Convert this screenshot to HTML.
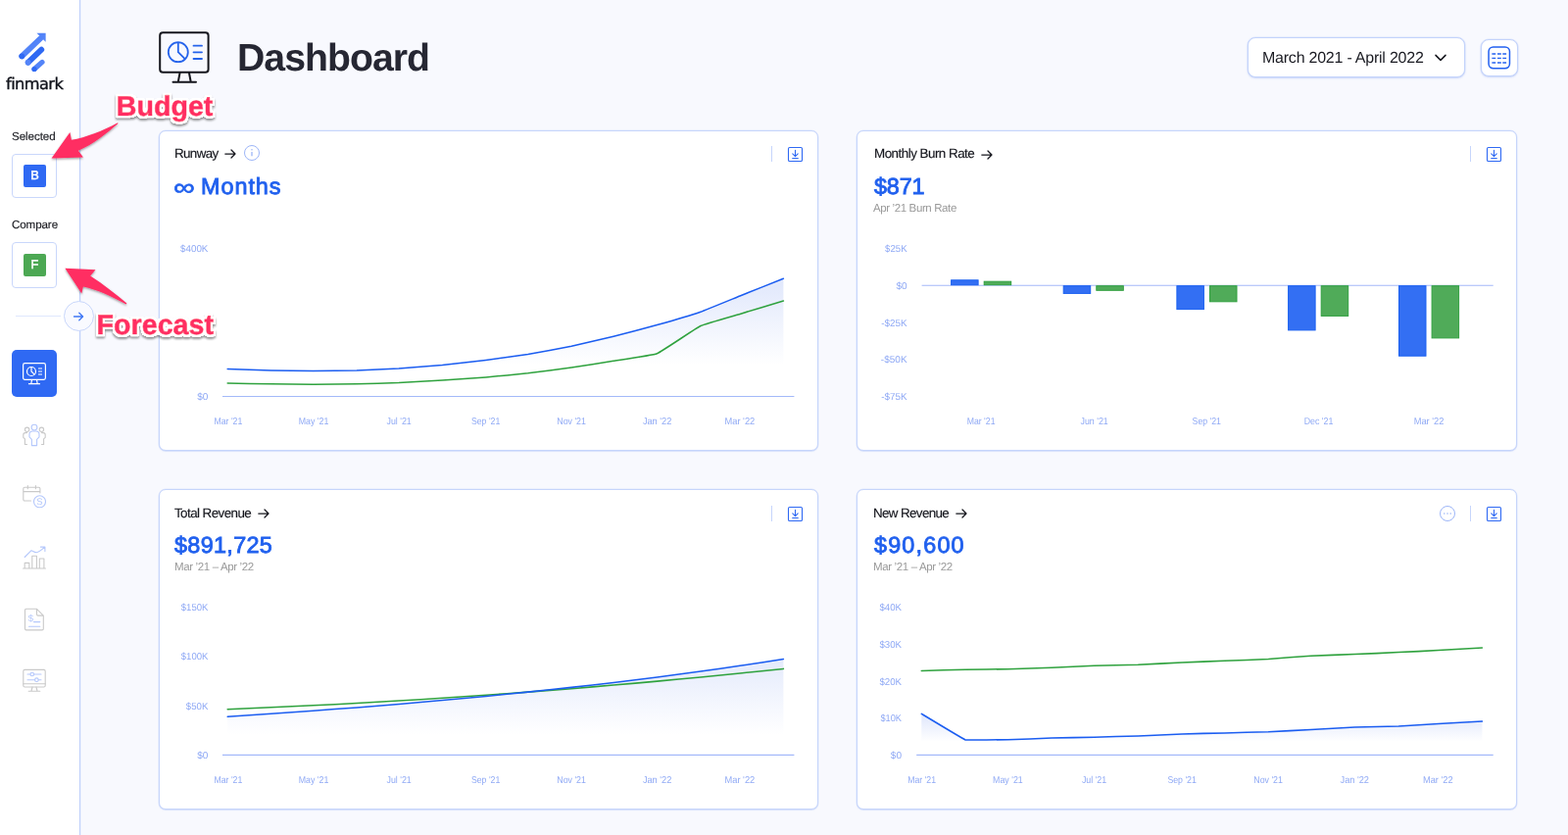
<!DOCTYPE html>
<html lang="en">
<head>
<meta charset="utf-8">
<title>Dashboard</title>
<style>
*{box-sizing:border-box;margin:0;padding:0}
html,body{width:1600px;height:852px;overflow:hidden}
body{text-rendering:geometricPrecision;background:#f8f9fe;font-family:"Liberation Sans",sans-serif;color:#15161d;position:relative}
.abs{position:absolute}
.t{position:absolute;white-space:nowrap;margin:0;font-weight:400}
.chart text{font-family:"Liberation Sans",sans-serif;fill:#8fa9f5;text-rendering:geometricPrecision}
.sidebar{position:absolute;left:0;top:0;width:82px;height:852px;background:#fff;border-right:1px solid #bfd0fb;box-shadow:.5px 0 0 rgba(170,192,250,.3)}
.sbox{position:absolute;left:12px;width:46px;height:46px;border:1px solid #c9d7fb;border-radius:4px;background:#fff}
.chip{position:absolute;left:11px;top:9.7px;width:23px;height:23.5px;border-radius:2px;color:#fff;font-weight:400;font-size:12.8px;line-height:22px;text-align:center;-webkit-text-stroke:.45px #fff}
.hr{position:absolute;left:16px;top:322px;width:46px;height:1px;background:#dfe7fd}
.toggle{position:absolute;left:65px;top:307px;width:31px;height:31px;border-radius:50%;border:1px solid #c9d7fb;background:#f9faff}
.nav-active{position:absolute;left:12px;top:357px;width:46px;height:48px;border-radius:5px;background:#2f69f3}
.navicon{position:absolute;left:23px;width:24px;height:24px}
.datebtn{position:absolute;left:1273px;top:38px;width:222px;height:41px;border:1px solid #c3d3fb;border-radius:8px;background:#fff;box-shadow:0 0 0 .5px rgba(170,192,250,.3),0 1px 2px rgba(120,150,240,.3)}
.tablebtn{position:absolute;left:1511px;top:40px;width:38px;height:38px;border:1px solid #c3d3fb;border-radius:8px;background:#fff;box-shadow:0 0 0 .5px rgba(170,192,250,.3),0 1px 2px rgba(120,150,240,.3)}
.card{position:absolute;width:673px;height:327px;border:1px solid #c6d5fb;border-radius:7px;background:#fff;box-shadow:0 0 0 .5px rgba(170,192,250,.3),0 1px 1px rgba(150,175,245,.25)}
</style>
</head>
<body>
<!-- SIDEBAR -->
<div class="sidebar">
  <svg class="abs" style="left:14px;top:30px" width="40" height="46" viewBox="14 30 40 46">
    <g stroke-linecap="round" fill="none">
      <line x1="22.3" y1="57.3" x2="41.5" y2="39" stroke="#5384f8" stroke-width="5.8"/>
      <line x1="28.7" y1="63.7" x2="42.3" y2="50.7" stroke="#2f69f3" stroke-width="5.8"/>
      <line x1="35" y1="70.5" x2="43" y2="63.4" stroke="#5384f8" stroke-width="5.2"/>
    </g>
    <polygon points="37.5,33.8 46.6,33.8 46.6,42.8" fill="#5384f8"/>
    <circle cx="22.3" cy="57.3" r="2.9" fill="#2f69f3"/>
    <circle cx="28.7" cy="63.7" r="2.9" fill="#5384f8"/>
    <circle cx="35" cy="70.5" r="2.6" fill="#2f69f3"/>
  </svg>
  <div class="t" style="left:6.1px;top:74.89px;font-size:16.2px;line-height:21px;height:21px;letter-spacing:-0.56px;color:#10121a;font-family:'DejaVu Sans','Liberation Sans',sans-serif;-webkit-text-stroke:0.35px #10121a;transform:rotate(.001deg);">finmark</div><div class="t" style="left:12.1px;top:131.88px;font-size:11.6px;line-height:15px;height:15px;letter-spacing:-0.07px;color:#1b1c22;font-family:'Liberation Sans',sans-serif;-webkit-text-stroke:0.15px #1b1c22;transform:rotate(.001deg);">Selected</div><div class="t" style="left:12.1px;top:222.28px;font-size:11.6px;line-height:15px;height:15px;letter-spacing:-0.1px;color:#1b1c22;font-family:'Liberation Sans',sans-serif;-webkit-text-stroke:0.15px #1b1c22;transform:rotate(.001deg);">Compare</div>
  <div class="sbox" style="top:157px;height:45px"><div class="chip" style="background:#2f69f3">B</div></div>
  <div class="sbox" style="top:247px;height:47px"><div class="chip" style="background:#4ca853;top:11.1px;height:23px;line-height:21.6px">F</div></div>
  <div class="hr"></div>
  <div class="nav-active">
    <svg class="abs" style="left:11px;top:12px" width="24" height="24" viewBox="0 0 24 24" fill="none" stroke="#fff" stroke-width="1.2">
      <rect x="0.6" y="1.6" width="22.8" height="16.8" rx="1.8"/>
      <circle cx="9" cy="10" r="4.5"/>
      <path d="M9 5.5V10l3.2 3.2"/>
      <path d="M16 7h4M16 10h4M16 13h4"/>
      <path d="M9.5 18.5l-.7 4M14.5 18.5l.7 4M6 22.6h12"/>
    </svg>
  </div>
  <svg class="navicon" style="top:432px" viewBox="0 0 24 24" fill="none" stroke="#c9c9c9" stroke-width="1.1" stroke-linecap="round" stroke-linejoin="round">
    <circle cx="4.6" cy="6.3" r="2.2"/><circle cx="19.4" cy="6.3" r="2.2"/>
    <path d="M4.5 21.5H2.4v-5.6L.8 14.3v-2.6c0-1.2.9-2.1 2-2.1h1.7M19.5 21.5h2.1v-5.6l1.6-1.6v-2.6c0-1.2-.9-2.1-2-2.1h-1.7"/>
    <g stroke="#b5c8fb"><circle cx="12" cy="4.1" r="2.9"/><path d="M9.4 22.6v-6.3l-2.4-2.5v-2.6c0-1.8 1.4-3.2 3.2-3.2h3.6c1.8 0 3.2 1.4 3.2 3.2v2.6l-2.4 2.5v6.3z"/></g>
  </svg>
  <svg class="navicon" style="top:495px" viewBox="0 0 24 24" fill="none" stroke="#c9c9c9" stroke-width="1.1" stroke-linecap="round" stroke-linejoin="round">
    <path d="M8.5 16H2.2c-.8 0-1.4-.6-1.4-1.4V3.6c0-.8.6-1.4 1.4-1.4h14.3c.8 0 1.4.6 1.4 1.4V8M.8 6.6h17.1M5.3.6v3.2M13.4.6v3.2"/>
    <g stroke="#b5c8fb"><circle cx="17.5" cy="16.8" r="6"/></g>
    <text x="17.5" y="20.3" text-anchor="middle" font-family="Liberation Sans, sans-serif" font-size="9.5" fill="#b5c8fb" stroke="none">S</text>
  </svg>
  <svg class="navicon" style="top:557px" viewBox="0 0 24 24" fill="none" stroke="#c9c9c9" stroke-width="1.1" stroke-linecap="round" stroke-linejoin="round">
    <path d="M.6 23h22.8M2.2 23v-5.6h4.6V23M9.8 23V10.2h4.6V23M17.3 23V13h4.6v10"/>
    <path d="M2.2 11.5l6.8-6.8c1.5.5 3 1.8 5.2 2 2.2.1 5.3-2.6 8.6-5.5M18.4 1.1h4.5v4.5" stroke="#b5c8fb"/>
  </svg>
  <svg class="navicon" style="top:620px" viewBox="0 0 24 24" fill="none" stroke="#c9c9c9" stroke-width="1.1" stroke-linecap="round" stroke-linejoin="round">
    <path d="M3.8 1.3h10.7l6.8 6.8v13.5c0 .7-.6 1.3-1.3 1.3H3.8c-.7 0-1.3-.6-1.3-1.3V2.6c0-.7.6-1.3 1.3-1.3zM14.5 1.3v5.5c0 .7.6 1.3 1.3 1.3h5.5"/>
    <path d="M11.5 14.6h6.3M6.5 19.2h11.3" stroke="#b5c8fb"/>
    <text x="8.3" y="13.6" text-anchor="middle" font-family="Liberation Sans, sans-serif" font-size="9.6" fill="#b5c8fb" stroke="none">$</text>
  </svg>
  <svg class="navicon" style="top:682px" viewBox="0 0 24 24" fill="none" stroke="#c9c9c9" stroke-width="1.1" stroke-linecap="round" stroke-linejoin="round">
    <rect x=".8" y="1.4" width="22.4" height="17.6" rx="1.5"/><path d="M.8 15.8h22.4M10 19l-1 4M14 19l1 4M6.2 23.3h11.6"/>
    <g stroke="#b5c8fb"><path d="M5 6h3M11.6 6H19M5 11.7h7.6M16.2 11.7H19"/><circle cx="9.8" cy="6" r="1.8"/><circle cx="14.4" cy="11.7" r="1.8"/></g>
  </svg>
</div>
<div class="toggle">
  <svg class="abs" style="left:7px;top:7.6px" width="14" height="14" viewBox="0 0 14 14" fill="none" stroke="#3f77f5" stroke-width="1.3" stroke-linecap="round" stroke-linejoin="round"><path d="M2.5 7h9M7.8 3.2L11.6 7l-3.8 3.8"/></svg>
</div>

<!-- HEADER -->
<svg class="abs" style="left:160px;top:30px" width="56" height="58" viewBox="160 30 56 58" fill="none">
  <rect x="163.2" y="33.2" width="49.4" height="40.6" rx="3" stroke="#15161d" stroke-width="2"/>
  <path d="M183.5 74.5l-1.7 9M193 74.5l1.7 9M176.5 83.8h23.5" stroke="#15161d" stroke-width="2" stroke-linecap="round"/>
  <circle cx="181.8" cy="53.2" r="10" stroke="#2563eb" stroke-width="1.8"/>
  <path d="M181.8 43.5v9.7l7 7" stroke="#2563eb" stroke-width="1.8"/>
  <path d="M197.5 46.7h8.5M197.5 53.3h8.5M197.5 60h8.5" stroke="#2563eb" stroke-width="1.8" stroke-linecap="round"/>
</svg>
<h1 class="t" style="left:241.6px;top:34.01px;font-size:39.2px;line-height:51px;height:51px;letter-spacing:-0.97px;color:#262733;font-family:'Liberation Sans',sans-serif;font-weight:700;transform:rotate(.001deg);">Dashboard</h1>
<div class="datebtn">
  <svg class="abs" style="left:189.4px;top:14.6px" width="14" height="10" viewBox="0 0 14 10" fill="none" stroke="#15161d" stroke-width="1.5" stroke-linecap="round" stroke-linejoin="round"><path d="M2 2.4l5 5 5-5"/></svg>
</div>
<div class="t" style="left:1288px;top:48.95px;font-size:16px;line-height:21px;height:21px;letter-spacing:-0.23px;color:#1a1b22;font-family:'Liberation Sans',sans-serif;transform:rotate(.001deg);">March 2021 - April 2022</div>
<div class="tablebtn">
  <svg class="abs" style="left:6px;top:6px" width="24" height="24" viewBox="0 0 24 24" fill="none" stroke="#2260f0" stroke-width="1.5">
    <rect x="1.05" y="1" width="21.4" height="21.7" rx="4.6"/>
    <path d="M4.4 8h3.8M10 8h3.8M15.3 8h3.8M4.4 12.4h3.8M10 12.4h3.8M15.3 12.4h3.8M4.4 17h3.8M10 17h3.8M15.3 17h3.8" stroke-width="1.4"/>
  </svg>
</div>
<div class="card" style="left:162px;top:133px;width:673px;height:327px"></div>
<svg class="abs chart" style="left:162px;top:133px" width="673" height="327" viewBox="162 133 673 327"><defs><linearGradient id="g1" gradientUnits="userSpaceOnUse" x1="0" y1="284" x2="0" y2="372"><stop offset="0" stop-color="#2f5fe8" stop-opacity="0.15"/><stop offset="1" stop-color="#2f5fe8" stop-opacity="0"/></linearGradient></defs><path d="M232.2,376.6C236.64,376.73 272.16,377.8 276.6,377.9C280.9,377.99 315.27,378.5 319.57,378.5C324.01,378.51 359.54,378.13 363.97,378C368.27,377.87 402.65,376.18 406.94,375.9C411.39,375.62 446.91,372.82 451.35,372.4C455.79,371.97 491.31,367.96 495.75,367.4C500.05,366.86 534.43,362.09 538.72,361.4C543.17,360.68 578.7,354.22 583.12,353.3C587.44,352.4 621.81,344.26 626.09,343.2C630.54,342.09 666.07,332.84 670.49,331.6C674.95,330.34 710.52,319.73 714.89,318.2C718.97,316.77 750.99,303.61 755,302C759.44,300.21 794.96,285.98 799.4,284.2L799.4,404.3 L232.2,404.3Z" fill="url(#g1)"/><line x1="227" x2="810.4" y1="404.5" y2="404.5" stroke="#a4b9f9" stroke-width="1.15"/><path d="M232.2,391C236.64,391.08 272.16,391.73 276.6,391.8C280.9,391.86 315.27,392.3 319.57,392.3C324.01,392.3 359.53,391.89 363.97,391.8C368.27,391.71 402.65,390.69 406.94,390.5C411.39,390.31 446.91,388.28 451.35,388C455.79,387.72 491.31,385.27 495.75,384.9C500.05,384.55 534.43,381.29 538.72,380.8C543.17,380.3 578.69,375.63 583.12,375C587.42,374.38 621.8,369 626.09,368.3C630.53,367.57 666.39,362.35 670.49,360.7C675.27,358.77 710.19,334.74 714.89,332.5C718.64,330.71 750.99,321.61 755,320.4C759.44,319.06 794.96,308.34 799.4,307" fill="none" stroke="#2fa23e" stroke-width="1.55" stroke-linejoin="round" stroke-linecap="round"/><path d="M232.2,376.6C236.64,376.73 272.16,377.8 276.6,377.9C280.9,377.99 315.27,378.5 319.57,378.5C324.01,378.51 359.54,378.13 363.97,378C368.27,377.87 402.65,376.18 406.94,375.9C411.39,375.62 446.91,372.82 451.35,372.4C455.79,371.97 491.31,367.96 495.75,367.4C500.05,366.86 534.43,362.09 538.72,361.4C543.17,360.68 578.7,354.22 583.12,353.3C587.44,352.4 621.81,344.26 626.09,343.2C630.54,342.09 666.07,332.84 670.49,331.6C674.95,330.34 710.52,319.73 714.89,318.2C718.97,316.77 750.99,303.61 755,302C759.44,300.21 794.96,285.98 799.4,284.2" fill="none" stroke="#1b5df1" stroke-width="1.55" stroke-linejoin="round" stroke-linecap="round"/><text x="212.4" y="257" text-anchor="end" textLength="28.4" lengthAdjust="spacingAndGlyphs" font-size="10">$400K</text><text x="212.4" y="407.9" text-anchor="end" textLength="11.2" lengthAdjust="spacingAndGlyphs" font-size="10">$0</text><text x="232.9" y="433" text-anchor="middle" textLength="28.8" lengthAdjust="spacingAndGlyphs" font-size="10">Mar '21</text><text x="320" y="433" text-anchor="middle" textLength="30.6" lengthAdjust="spacingAndGlyphs" font-size="10">May '21</text><text x="407.1" y="433" text-anchor="middle" textLength="25.2" lengthAdjust="spacingAndGlyphs" font-size="10">Jul '21</text><text x="495.6" y="433" text-anchor="middle" textLength="29.4" lengthAdjust="spacingAndGlyphs" font-size="10">Sep '21</text><text x="583.1" y="433" text-anchor="middle" textLength="29.6" lengthAdjust="spacingAndGlyphs" font-size="10">Nov '21</text><text x="670.6" y="433" text-anchor="middle" textLength="29.4" lengthAdjust="spacingAndGlyphs" font-size="10">Jan '22</text><text x="754.9" y="433" text-anchor="middle" textLength="30.6" lengthAdjust="spacingAndGlyphs" font-size="10">Mar '22</text></svg>
<div class="t" style="left:178px;top:148.35px;font-size:13.4px;line-height:17px;height:17px;letter-spacing:-0.64px;color:#15161d;font-family:'Liberation Sans',sans-serif;-webkit-text-stroke:0.15px #15161d;transform:rotate(.001deg);">Runway</div><svg class="abs" style="left:229.3px;top:152.2px" width="12" height="10" viewBox="0 0 12 10" fill="none" stroke="#15161d" stroke-width="1.25" stroke-linecap="round" stroke-linejoin="round"><path d="M.8 5h10.2M7 1l4 4-4 4"/></svg><svg class="abs" style="left:248.1px;top:146.9px" width="18" height="18" viewBox="0 0 18 18" fill="none" stroke="#9db6f8" stroke-width="1"><circle cx="9" cy="9" r="7.5"/><path d="M9 8v4.2" stroke-width="1.3"/><circle cx="9" cy="5.7" r=".8" fill="#9db6f8" stroke="none"/></svg><div class="t" style="left:177px;top:172.22px;font-size:28.5px;line-height:37px;height:37px;letter-spacing:-0.02px;color:#2060ee;font-family:'Liberation Sans',sans-serif;-webkit-text-stroke:0.7px #2060ee;transform:scale(1.07,.83) rotate(.001deg);transform-origin:0 78%;">∞</div><div class="t" style="left:204.8px;top:175.19px;font-size:23.4px;line-height:30px;height:30px;letter-spacing:0.96px;color:#2060ee;font-family:'Liberation Sans',sans-serif;-webkit-text-stroke:0.85px #2060ee;transform:rotate(.001deg);">Months</div><div class="abs" style="left:786.9px;top:149.2px;width:1px;height:16px;background:#c6d5fb"></div><svg class="abs" style="left:803px;top:148.7px" width="17" height="17" viewBox="0 0 17 17" fill="none" stroke="#2f69f3" stroke-width="1.1" stroke-linecap="round" stroke-linejoin="round"><rect x="1.5" y="1.5" width="14" height="14" rx="1.3"/><path d="M8.5 4.4v6M5.8 7.9l2.7 2.7 2.7-2.7M5.7 12.5h5.6"/></svg>
<div class="card" style="left:874px;top:133px;width:674px;height:327px"></div>
<svg class="abs chart" style="left:874px;top:133px" width="674" height="327" viewBox="874 133 674 327"><line x1="940.6" x2="1523.7" y1="291.2" y2="291.2" stroke="#a4b9f9" stroke-width="1.15"/><rect x="970.6" y="285.8" width="27.5" height="4.9" fill="#336ff3" stroke="#1a60f0" stroke-width="1"/><rect x="1004.2" y="287.2" width="27.5" height="3.5" fill="#50ab59" stroke="#30a03f" stroke-width="1"/><rect x="1085.2" y="291.7" width="27.5" height="7.7" fill="#336ff3" stroke="#1a60f0" stroke-width="1"/><rect x="1118.8" y="291.7" width="27.5" height="4.6" fill="#50ab59" stroke="#30a03f" stroke-width="1"/><rect x="1200.9" y="291.7" width="27.5" height="23.9" fill="#336ff3" stroke="#1a60f0" stroke-width="1"/><rect x="1234.5" y="291.7" width="27.5" height="16.1" fill="#50ab59" stroke="#30a03f" stroke-width="1"/><rect x="1314.6" y="291.7" width="27.5" height="45.2" fill="#336ff3" stroke="#1a60f0" stroke-width="1"/><rect x="1348.2" y="291.7" width="27.5" height="30.7" fill="#50ab59" stroke="#30a03f" stroke-width="1"/><rect x="1427.5" y="291.7" width="27.5" height="71.5" fill="#336ff3" stroke="#1a60f0" stroke-width="1"/><rect x="1461.1" y="291.7" width="27.5" height="53.2" fill="#50ab59" stroke="#30a03f" stroke-width="1"/><text x="925.6" y="257" text-anchor="end" textLength="22.6" lengthAdjust="spacingAndGlyphs" font-size="10">$25K</text><text x="925.6" y="294.8" text-anchor="end" textLength="11.2" lengthAdjust="spacingAndGlyphs" font-size="10">$0</text><text x="925.6" y="332.8" text-anchor="end" textLength="26.4" lengthAdjust="spacingAndGlyphs" font-size="10">-$25K</text><text x="925.6" y="370.4" text-anchor="end" textLength="26.8" lengthAdjust="spacingAndGlyphs" font-size="10">-$50K</text><text x="925.6" y="408.4" text-anchor="end" textLength="26.4" lengthAdjust="spacingAndGlyphs" font-size="10">-$75K</text><text x="1001.1" y="433" text-anchor="middle" textLength="28.8" lengthAdjust="spacingAndGlyphs" font-size="10">Mar '21</text><text x="1116.6" y="433" text-anchor="middle" textLength="28.2" lengthAdjust="spacingAndGlyphs" font-size="10">Jun '21</text><text x="1231.3" y="433" text-anchor="middle" textLength="29.4" lengthAdjust="spacingAndGlyphs" font-size="10">Sep '21</text><text x="1345.5" y="433" text-anchor="middle" textLength="29.6" lengthAdjust="spacingAndGlyphs" font-size="10">Dec '21</text><text x="1458" y="433" text-anchor="middle" textLength="30.6" lengthAdjust="spacingAndGlyphs" font-size="10">Mar '22</text></svg>
<div class="t" style="left:891.5px;top:148.35px;font-size:13.4px;line-height:17px;height:17px;letter-spacing:-0.51px;color:#15161d;font-family:'Liberation Sans',sans-serif;-webkit-text-stroke:0.15px #15161d;transform:rotate(.001deg);">Monthly Burn Rate</div><svg class="abs" style="left:1000.9px;top:152.6px" width="12" height="10" viewBox="0 0 12 10" fill="none" stroke="#15161d" stroke-width="1.25" stroke-linecap="round" stroke-linejoin="round"><path d="M.8 5h10.2M7 1l4 4-4 4"/></svg><div class="t" style="left:891.8px;top:175.19px;font-size:23.4px;line-height:30px;height:30px;letter-spacing:-0.19px;color:#2060ee;font-family:'Liberation Sans',sans-serif;-webkit-text-stroke:0.85px #2060ee;transform:rotate(.001deg);">$871</div><div class="t" style="left:891.3px;top:205.51px;font-size:11.5px;line-height:15px;height:15px;letter-spacing:-0.38px;color:#9a9a9a;font-family:'Liberation Sans',sans-serif;transform:rotate(.001deg);">Apr ’21 Burn Rate</div><div class="abs" style="left:1500px;top:149.2px;width:1px;height:16px;background:#c6d5fb"></div><svg class="abs" style="left:1516.1px;top:148.7px" width="17" height="17" viewBox="0 0 17 17" fill="none" stroke="#2f69f3" stroke-width="1.1" stroke-linecap="round" stroke-linejoin="round"><rect x="1.5" y="1.5" width="14" height="14" rx="1.3"/><path d="M8.5 4.4v6M5.8 7.9l2.7 2.7 2.7-2.7M5.7 12.5h5.6"/></svg>
<div class="card" style="left:162px;top:499.3px;width:673px;height:327px"></div>
<svg class="abs chart" style="left:162px;top:499.3px" width="673" height="327" viewBox="162 499.3 673 327"><defs><linearGradient id="g3" gradientUnits="userSpaceOnUse" x1="0" y1="672" x2="0" y2="750"><stop offset="0" stop-color="#2f5fe8" stop-opacity="0.13"/><stop offset="1" stop-color="#2f5fe8" stop-opacity="0"/></linearGradient></defs><path d="M232.2,731.5C236.64,731.21 272.16,728.89 276.6,728.59C280.9,728.3 315.28,725.88 319.57,725.57C324.01,725.24 359.53,722.56 363.97,722.22C368.27,721.88 402.65,719.1 406.94,718.74C411.38,718.37 446.91,715.28 451.35,714.88C455.79,714.48 491.31,711.17 495.75,710.74C500.05,710.32 534.42,706.88 538.72,706.43C543.16,705.97 578.68,702.16 583.12,701.66C587.42,701.18 621.79,697.22 626.09,696.71C630.53,696.18 666.05,691.78 670.49,691.22C674.93,690.65 710.46,685.92 714.89,685.31C718.91,684.76 750.99,680.2 755,679.61C759.44,678.95 794.96,673.52 799.4,672.85L799.4,770.5 L232.2,770.5Z" fill="url(#g3)"/><line x1="227" x2="810.4" y1="770.7" y2="770.7" stroke="#a4b9f9" stroke-width="1.15"/><path d="M232.2,724C236.64,723.81 272.16,722.34 276.6,722.14C280.9,721.95 315.28,720.34 319.57,720.12C324.01,719.9 359.53,718.05 363.97,717.81C368.27,717.57 402.65,715.6 406.94,715.34C411.38,715.08 446.91,712.85 451.35,712.56C455.79,712.28 491.31,709.87 495.75,709.55C500.05,709.25 534.42,706.74 538.72,706.42C543.16,706.08 578.68,703.31 583.12,702.95C587.42,702.6 621.79,699.74 626.09,699.37C630.53,698.99 666.05,695.84 670.49,695.44C674.93,695.03 710.45,691.7 714.89,691.27C718.9,690.89 750.99,687.72 755,687.31C759.44,686.86 794.96,683.16 799.4,682.7" fill="none" stroke="#2fa23e" stroke-width="1.55" stroke-linejoin="round" stroke-linecap="round"/><path d="M232.2,731.5C236.64,731.21 272.16,728.89 276.6,728.59C280.9,728.3 315.28,725.88 319.57,725.57C324.01,725.24 359.53,722.56 363.97,722.22C368.27,721.88 402.65,719.1 406.94,718.74C411.38,718.37 446.91,715.28 451.35,714.88C455.79,714.48 491.31,711.17 495.75,710.74C500.05,710.32 534.42,706.88 538.72,706.43C543.16,705.97 578.68,702.16 583.12,701.66C587.42,701.18 621.79,697.22 626.09,696.71C630.53,696.18 666.05,691.78 670.49,691.22C674.93,690.65 710.46,685.92 714.89,685.31C718.91,684.76 750.99,680.2 755,679.61C759.44,678.95 794.96,673.52 799.4,672.85" fill="none" stroke="#1b5df1" stroke-width="1.55" stroke-linejoin="round" stroke-linecap="round"/><text x="212.4" y="623.1" text-anchor="end" textLength="27.6" lengthAdjust="spacingAndGlyphs" font-size="10">$150K</text><text x="212.4" y="673.6" text-anchor="end" textLength="27.6" lengthAdjust="spacingAndGlyphs" font-size="10">$100K</text><text x="212.4" y="724.4" text-anchor="end" textLength="22.6" lengthAdjust="spacingAndGlyphs" font-size="10">$50K</text><text x="212.4" y="774.3" text-anchor="end" textLength="11.2" lengthAdjust="spacingAndGlyphs" font-size="10">$0</text><text x="232.9" y="799.3" text-anchor="middle" textLength="28.8" lengthAdjust="spacingAndGlyphs" font-size="10">Mar '21</text><text x="320" y="799.3" text-anchor="middle" textLength="30.6" lengthAdjust="spacingAndGlyphs" font-size="10">May '21</text><text x="407.1" y="799.3" text-anchor="middle" textLength="25.2" lengthAdjust="spacingAndGlyphs" font-size="10">Jul '21</text><text x="495.6" y="799.3" text-anchor="middle" textLength="29.4" lengthAdjust="spacingAndGlyphs" font-size="10">Sep '21</text><text x="583.1" y="799.3" text-anchor="middle" textLength="29.6" lengthAdjust="spacingAndGlyphs" font-size="10">Nov '21</text><text x="670.6" y="799.3" text-anchor="middle" textLength="29.4" lengthAdjust="spacingAndGlyphs" font-size="10">Jan '22</text><text x="754.9" y="799.3" text-anchor="middle" textLength="30.6" lengthAdjust="spacingAndGlyphs" font-size="10">Mar '22</text></svg>
<div class="t" style="left:178px;top:514.65px;font-size:13.4px;line-height:17px;height:17px;letter-spacing:-0.57px;color:#15161d;font-family:'Liberation Sans',sans-serif;-webkit-text-stroke:0.15px #15161d;transform:rotate(.001deg);">Total Revenue</div><svg class="abs" style="left:263px;top:518.5px" width="12" height="10" viewBox="0 0 12 10" fill="none" stroke="#15161d" stroke-width="1.25" stroke-linecap="round" stroke-linejoin="round"><path d="M.8 5h10.2M7 1l4 4-4 4"/></svg><div class="t" style="left:178.2px;top:541.49px;font-size:23.4px;line-height:30px;height:30px;letter-spacing:0.32px;color:#2060ee;font-family:'Liberation Sans',sans-serif;-webkit-text-stroke:0.85px #2060ee;transform:rotate(.001deg);">$891,725</div><div class="t" style="left:178px;top:571.81px;font-size:11.5px;line-height:15px;height:15px;letter-spacing:-0.36px;color:#9a9a9a;font-family:'Liberation Sans',sans-serif;transform:rotate(.001deg);">Mar ’21 – Apr ’22</div><div class="abs" style="left:786.9px;top:516px;width:1px;height:16px;background:#c6d5fb"></div><svg class="abs" style="left:803px;top:515.5px" width="17" height="17" viewBox="0 0 17 17" fill="none" stroke="#2f69f3" stroke-width="1.1" stroke-linecap="round" stroke-linejoin="round"><rect x="1.5" y="1.5" width="14" height="14" rx="1.3"/><path d="M8.5 4.4v6M5.8 7.9l2.7 2.7 2.7-2.7M5.7 12.5h5.6"/></svg>
<div class="card" style="left:874px;top:499.3px;width:674px;height:327px"></div>
<svg class="abs chart" style="left:874px;top:499.3px" width="674" height="327" viewBox="874 499.3 674 327"><defs><linearGradient id="g4" gradientUnits="userSpaceOnUse" x1="0" y1="728" x2="0" y2="757"><stop offset="0" stop-color="#2f5fe8" stop-opacity="0.16"/><stop offset="1" stop-color="#2f5fe8" stop-opacity="0"/></linearGradient></defs><path d="M940.3,728.6C941.64,729.4 983.64,754.77 985.09,755.2C986.29,755.56 1027.13,755.03 1028.43,755C1029.77,754.97 1071.87,753.44 1073.21,753.4C1074.51,753.36 1115.25,752.53 1116.55,752.5C1117.9,752.47 1160,751.25 1161.34,751.2C1162.68,751.15 1204.78,749.25 1206.12,749.2C1207.42,749.16 1248.16,748.23 1249.47,748.2C1250.81,748.17 1292.91,747.05 1294.25,747C1295.55,746.95 1336.29,744.87 1337.59,744.8C1338.94,744.73 1381.03,742.35 1382.38,742.3C1383.72,742.25 1425.82,741.26 1427.16,741.2C1428.38,741.15 1466.4,738.87 1467.61,738.8C1468.96,738.72 1511.06,736.47 1512.4,736.4L1512.4,770.5 L940.3,770.5Z" fill="url(#g4)"/><line x1="935.2" x2="1523.7" y1="770.7" y2="770.7" stroke="#a4b9f9" stroke-width="1.15"/><path d="M940.3,684.7C941.64,684.67 983.74,683.63 985.09,683.6C986.39,683.57 1027.13,683.03 1028.43,683C1029.77,682.97 1071.87,681.55 1073.21,681.5C1074.51,681.45 1115.25,679.64 1116.55,679.6C1117.9,679.55 1160,678.55 1161.34,678.5C1162.68,678.45 1204.78,676.36 1206.12,676.3C1207.42,676.24 1248.16,674.65 1249.47,674.6C1250.81,674.55 1292.91,672.88 1294.25,672.8C1295.55,672.72 1336.29,669.57 1337.59,669.5C1338.93,669.43 1381.03,667.95 1382.38,667.9C1383.72,667.85 1425.82,665.96 1427.16,665.9C1428.38,665.84 1466.4,663.97 1467.61,663.9C1468.96,663.83 1511.06,661.38 1512.4,661.3" fill="none" stroke="#2fa23e" stroke-width="1.55" stroke-linejoin="round" stroke-linecap="round"/><path d="M940.3,728.6C941.64,729.4 983.64,754.77 985.09,755.2C986.29,755.56 1027.13,755.03 1028.43,755C1029.77,754.97 1071.87,753.44 1073.21,753.4C1074.51,753.36 1115.25,752.53 1116.55,752.5C1117.9,752.47 1160,751.25 1161.34,751.2C1162.68,751.15 1204.78,749.25 1206.12,749.2C1207.42,749.16 1248.16,748.23 1249.47,748.2C1250.81,748.17 1292.91,747.05 1294.25,747C1295.55,746.95 1336.29,744.87 1337.59,744.8C1338.94,744.73 1381.03,742.35 1382.38,742.3C1383.72,742.25 1425.82,741.26 1427.16,741.2C1428.38,741.15 1466.4,738.87 1467.61,738.8C1468.96,738.72 1511.06,736.47 1512.4,736.4" fill="none" stroke="#1b5df1" stroke-width="1.55" stroke-linejoin="round" stroke-linecap="round"/><text x="920" y="623.1" text-anchor="end" textLength="22.6" lengthAdjust="spacingAndGlyphs" font-size="10">$40K</text><text x="920" y="661.1" text-anchor="end" textLength="22.6" lengthAdjust="spacingAndGlyphs" font-size="10">$30K</text><text x="920" y="699.1" text-anchor="end" textLength="22.6" lengthAdjust="spacingAndGlyphs" font-size="10">$20K</text><text x="920" y="736.7" text-anchor="end" textLength="21.6" lengthAdjust="spacingAndGlyphs" font-size="10">$10K</text><text x="920" y="774.3" text-anchor="end" textLength="11.2" lengthAdjust="spacingAndGlyphs" font-size="10">$0</text><text x="940.6" y="799.3" text-anchor="middle" textLength="28.8" lengthAdjust="spacingAndGlyphs" font-size="10">Mar '21</text><text x="1028.4" y="799.3" text-anchor="middle" textLength="30.6" lengthAdjust="spacingAndGlyphs" font-size="10">May '21</text><text x="1116.5" y="799.3" text-anchor="middle" textLength="25.2" lengthAdjust="spacingAndGlyphs" font-size="10">Jul '21</text><text x="1206.1" y="799.3" text-anchor="middle" textLength="29.4" lengthAdjust="spacingAndGlyphs" font-size="10">Sep '21</text><text x="1294.1" y="799.3" text-anchor="middle" textLength="29.6" lengthAdjust="spacingAndGlyphs" font-size="10">Nov '21</text><text x="1382.3" y="799.3" text-anchor="middle" textLength="29.4" lengthAdjust="spacingAndGlyphs" font-size="10">Jan '22</text><text x="1467.3" y="799.3" text-anchor="middle" textLength="30.6" lengthAdjust="spacingAndGlyphs" font-size="10">Mar '22</text></svg>
<div class="t" style="left:891.2px;top:514.65px;font-size:13.4px;line-height:17px;height:17px;letter-spacing:-0.63px;color:#15161d;font-family:'Liberation Sans',sans-serif;-webkit-text-stroke:0.15px #15161d;transform:rotate(.001deg);">New Revenue</div><svg class="abs" style="left:975px;top:518.5px" width="12" height="10" viewBox="0 0 12 10" fill="none" stroke="#15161d" stroke-width="1.25" stroke-linecap="round" stroke-linejoin="round"><path d="M.8 5h10.2M7 1l4 4-4 4"/></svg><div class="t" style="left:891.6px;top:541.49px;font-size:23.4px;line-height:30px;height:30px;letter-spacing:1.17px;color:#2060ee;font-family:'Liberation Sans',sans-serif;-webkit-text-stroke:0.85px #2060ee;transform:rotate(.001deg);">$90,600</div><div class="t" style="left:891.2px;top:571.81px;font-size:11.5px;line-height:15px;height:15px;letter-spacing:-0.36px;color:#9a9a9a;font-family:'Liberation Sans',sans-serif;transform:rotate(.001deg);">Mar ’21 – Apr ’22</div><svg class="abs" style="left:1467.8px;top:514.6px" width="18" height="18" viewBox="0 0 18 18" fill="none" stroke="#9db6f8" stroke-width="1"><circle cx="9" cy="9" r="7.5"/><g fill="#9db6f8" stroke="none"><circle cx="5.8" cy="9" r=".8"/><circle cx="9" cy="9" r=".8"/><circle cx="12.2" cy="9" r=".8"/></g></svg><div class="abs" style="left:1500px;top:516px;width:1px;height:16px;background:#c6d5fb"></div><svg class="abs" style="left:1516.1px;top:515.5px" width="17" height="17" viewBox="0 0 17 17" fill="none" stroke="#2f69f3" stroke-width="1.1" stroke-linecap="round" stroke-linejoin="round"><rect x="1.5" y="1.5" width="14" height="14" rx="1.3"/><path d="M8.5 4.4v6M5.8 7.9l2.7 2.7 2.7-2.7M5.7 12.5h5.6"/></svg>
<svg class="abs" style="left:0;top:0;overflow:visible" width="260" height="360" viewBox="0 0 260 360">
<defs><filter id="sh" x="-20%" y="-20%" width="140%" height="150%"><feDropShadow dx="0" dy="1.2" stdDeviation="0.9" flood-color="#000" flood-opacity=".4"/></filter>
<filter id="ol" x="-10%" y="-30%" width="120%" height="170%">
<feMorphology in="SourceAlpha" operator="dilate" radius="1.9" result="d"/>
<feGaussianBlur in="d" stdDeviation="0.45" result="db"/>
<feComponentTransfer in="db" result="dc"><feFuncA type="linear" slope="3" intercept="-0.6"/></feComponentTransfer>
<feFlood flood-color="#fff"/><feComposite in2="dc" operator="in" result="w"/>
<feGaussianBlur in="dc" stdDeviation="0.8"/><feOffset dy="1.5" result="s0"/>
<feFlood flood-color="#000" flood-opacity=".42"/><feComposite in2="s0" operator="in" result="s"/>
<feMerge><feMergeNode in="s"/><feMergeNode in="w"/><feMergeNode in="SourceGraphic"/></feMerge>
</filter></defs>
<g fill="#ff2d62" filter="url(#sh)">
<path d="M120.1 125.2C104 134 88 140 72.9 142.8L71.4 134.9 52.6 161.5 84.9 160.4 79.9 153.8C95 147 108 137 120.5 126Z"/>
<path d="M66.4 273.8L97.5 275.3 92.1 281.6C106 290.5 118.5 300.5 129.4 309.6L128.6 310.6C114 302 99 295.5 84.9 292.4L83.3 299.6Z"/>
</g>
<g font-family="Liberation Sans, sans-serif" font-weight="700" font-size="28.7" fill="#ff2d62" stroke="#ff2d62" stroke-width=".7" stroke-linejoin="round" filter="url(#ol)">
<text x="118.7" y="117.9" textLength="98.7" lengthAdjust="spacingAndGlyphs">Budget</text>
<text x="98.6" y="341" textLength="119.4" lengthAdjust="spacingAndGlyphs">Forecast</text>
</g></svg>
</body>
</html>
